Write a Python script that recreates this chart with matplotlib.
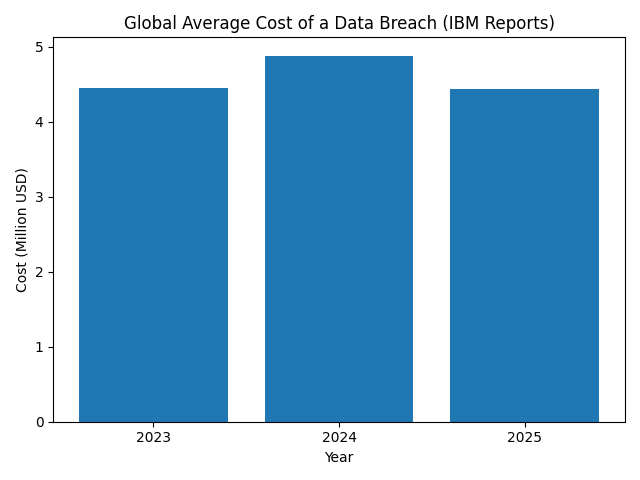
import matplotlib
matplotlib.use('Agg')
import matplotlib.pyplot as plt

years = ['2023', '2024', '2025']
costs = [4.45, 4.88, 4.44]

fig, ax = plt.subplots(figsize=(6.4, 4.8), dpi=100)
ax.bar(years, costs)
ax.set_title('Global Average Cost of a Data Breach (IBM Reports)')
ax.set_xlabel('Year')
ax.set_ylabel('Cost (Million USD)')
fig.tight_layout()
fig.savefig('out.png')
